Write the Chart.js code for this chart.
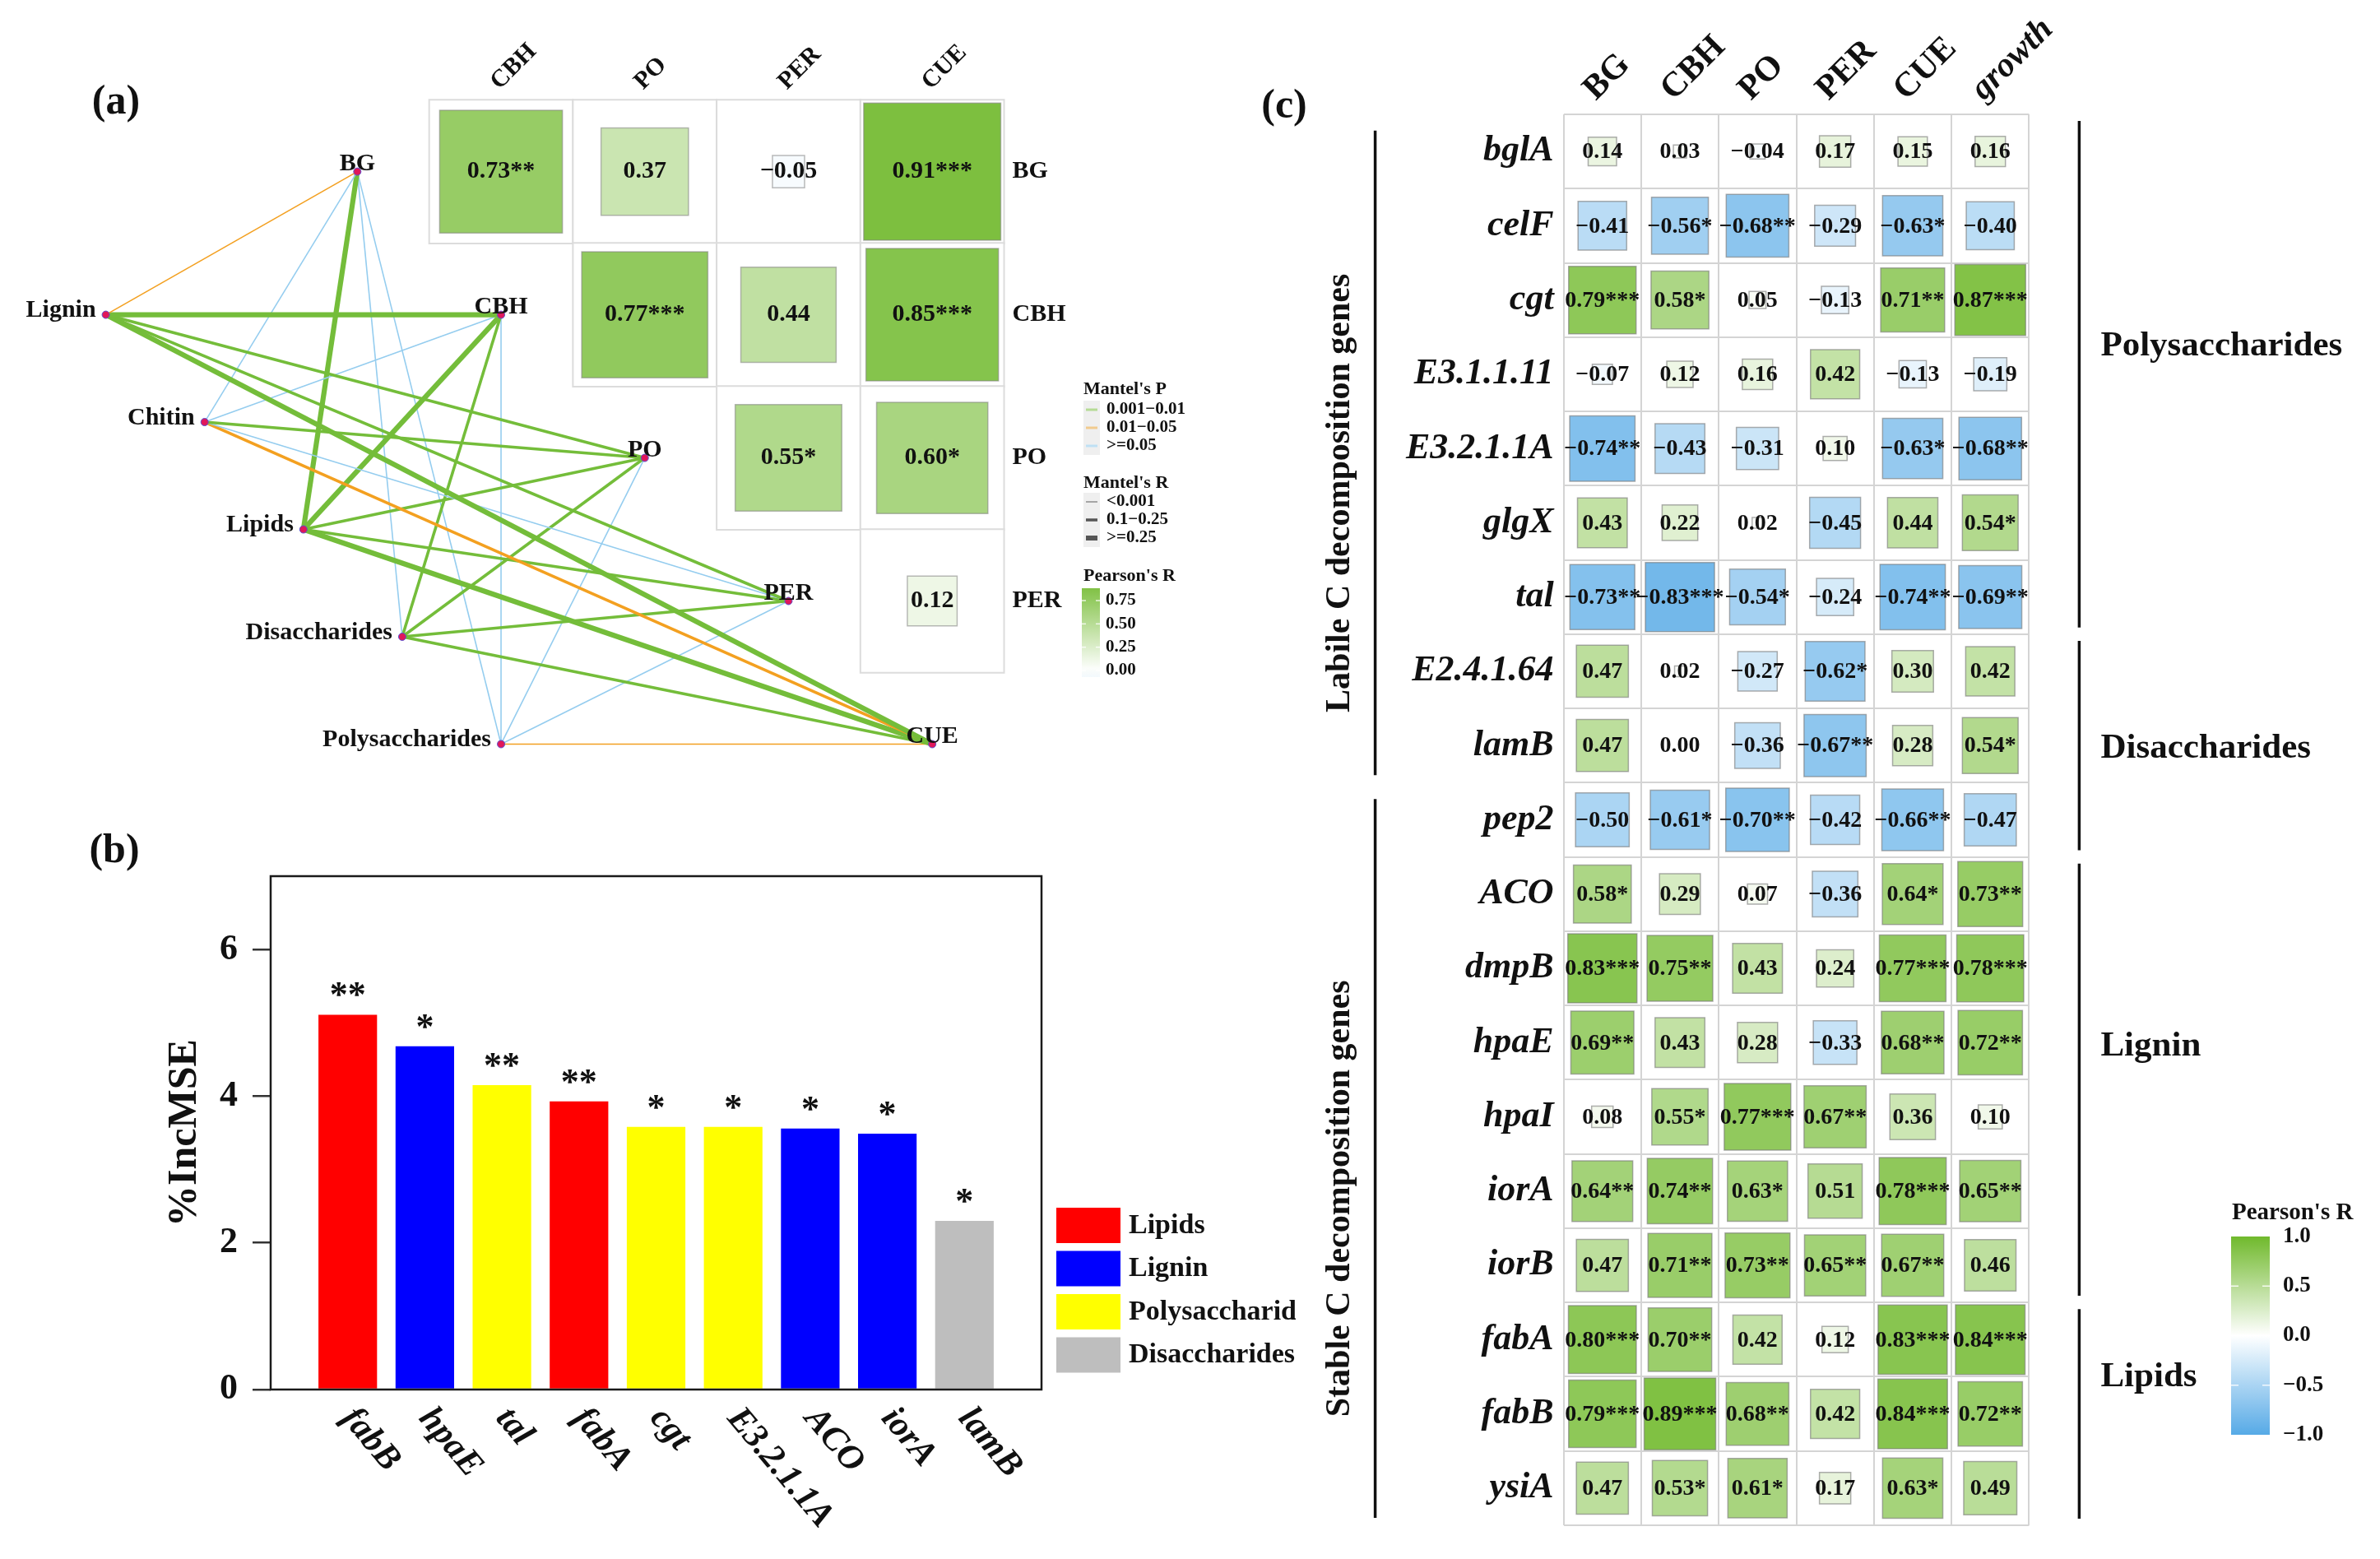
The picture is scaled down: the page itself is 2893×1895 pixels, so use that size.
<!DOCTYPE html>
<html lang="en">
<head>
<meta charset="utf-8">
<title>Mantel network, random forest and gene correlations</title>
<script src="https://cdn.jsdelivr.net/npm/chart.js@4.4.1/dist/chart.umd.min.js"></script>
<style>
  html, body { margin: 0; padding: 0; background: #fff; }
  body { position: relative; width: 2893px; height: 1895px; overflow: hidden; }
  canvas { position: absolute; }
  #panelA { left: 0; top: 0; }
  #panelB { left: 0; top: 950px; }
  #panelC { left: 1500px; top: 0; }
</style>
</head>
<body>
<canvas id="panelA" width="1500" height="950"></canvas>
<canvas id="panelB" width="1575" height="945"></canvas>
<canvas id="panelC" width="1393" height="1895"></canvas>
<script>
// ---------- panel (a) data ----------
const matRows = ['BG', 'CBH', 'PO', 'PER'];
const matCols = ['CBH', 'PO', 'PER', 'CUE'];
const matR = [
  [0.73, 0.37, -0.05, 0.91],
  [null, 0.77, 0.44, 0.85],
  [null, null, 0.55, 0.60],
  [null, null, null, 0.12]
];
const matStars = [
  ['**', '', '', '***'],
  ['', '***', '', '***'],
  ['', '', '*', '*'],
  ['', '', '', '']
];
const mantelGroups = ['Lignin', 'Chitin', 'Lipids', 'Disaccharides', 'Polysaccharides'];
const mantelTargets = ['BG', 'CBH', 'PO', 'PER', 'CUE'];
// 0: 0.001-0.01, 1: 0.01-0.05, 2: >=0.05
const mantelPClass = [
  [1, 0, 0, 0, 0],
  [2, 2, 0, 2, 1],
  [0, 0, 0, 0, 0],
  [2, 0, 0, 0, 0],
  [2, 2, 2, 2, 1]
];
// 0: <0.001, 1: 0.1-0.25, 2: >=0.25
const mantelRClass = [
  [0, 2, 1, 1, 2],
  [0, 0, 1, 0, 1],
  [2, 2, 1, 1, 2],
  [0, 1, 1, 1, 1],
  [0, 0, 0, 0, 0]
];
const mantelPLabels = ['0.001\u22120.01', '0.01\u22120.05', '>=0.05'];
const mantelRLabels = ['<0.001', '0.1\u22120.25', '>=0.25'];
const pearsonTicksA = [0.75, 0.50, 0.25, 0.00];

// ---------- panel (b) data ----------
const rfGenes = ['fabB', 'hpaE', 'tal', 'fabA', 'cgt', 'E3.2.1.1A', 'ACO', 'iorA', 'lamB'];
const rfIncMSE = [5.11, 4.68, 4.15, 3.93, 3.58, 3.58, 3.56, 3.49, 2.30];
const rfStars = ['**', '*', '**', '**', '*', '*', '*', '*', '*'];
const rfGroup = ['Lipids', 'Lignin', 'Polysaccharides', 'Lipids', 'Polysaccharides',
  'Polysaccharides', 'Lignin', 'Lignin', 'Disaccharides'];
const rfGroupNames = ['Lipids', 'Lignin', 'Polysaccharides', 'Disaccharides'];
const yTicksB = [0, 2, 4, 6];

// ---------- panel (c) data ----------
const geneRows = ['bglA', 'celF', 'cgt', 'E3.1.1.11', 'E3.2.1.1A', 'glgX', 'tal', 'E2.4.1.64', 'lamB',
  'pep2', 'ACO', 'dmpB', 'hpaE', 'hpaI', 'iorA', 'iorB', 'fabA', 'fabB', 'ysiA'];
const geneCols = ['BG', 'CBH', 'PO', 'PER', 'CUE', 'growth'];
const geneR = [
  [0.14, 0.03, -0.04, 0.17, 0.15, 0.16],
  [-0.41, -0.56, -0.68, -0.29, -0.63, -0.40],
  [0.79, 0.58, 0.05, -0.13, 0.71, 0.87],
  [-0.07, 0.12, 0.16, 0.42, -0.13, -0.19],
  [-0.74, -0.43, -0.31, 0.10, -0.63, -0.68],
  [0.43, 0.22, 0.02, -0.45, 0.44, 0.54],
  [-0.73, -0.83, -0.54, -0.24, -0.74, -0.69],
  [0.47, 0.02, -0.27, -0.62, 0.30, 0.42],
  [0.47, 0.00, -0.36, -0.67, 0.28, 0.54],
  [-0.50, -0.61, -0.70, -0.42, -0.66, -0.47],
  [0.58, 0.29, 0.07, -0.36, 0.64, 0.73],
  [0.83, 0.75, 0.43, 0.24, 0.77, 0.78],
  [0.69, 0.43, 0.28, -0.33, 0.68, 0.72],
  [0.08, 0.55, 0.77, 0.67, 0.36, 0.10],
  [0.64, 0.74, 0.63, 0.51, 0.78, 0.65],
  [0.47, 0.71, 0.73, 0.65, 0.67, 0.46],
  [0.80, 0.70, 0.42, 0.12, 0.83, 0.84],
  [0.79, 0.89, 0.68, 0.42, 0.84, 0.72],
  [0.47, 0.53, 0.61, 0.17, 0.63, 0.49]
];
const geneStars = [
  ['', '', '', '', '', ''],
  ['', '*', '**', '', '*', ''],
  ['***', '*', '', '', '**', '***'],
  ['', '', '', '', '', ''],
  ['**', '', '', '', '*', '**'],
  ['', '', '', '', '', '*'],
  ['**', '***', '*', '', '**', '**'],
  ['', '', '', '*', '', ''],
  ['', '', '', '**', '', '*'],
  ['', '*', '**', '', '**', ''],
  ['*', '', '', '', '*', '**'],
  ['***', '**', '', '', '***', '***'],
  ['**', '', '', '', '**', '**'],
  ['', '*', '***', '**', '', ''],
  ['**', '**', '*', '', '***', '**'],
  ['', '**', '**', '**', '**', ''],
  ['***', '**', '', '', '***', '***'],
  ['***', '***', '**', '', '***', '**'],
  ['', '*', '*', '', '*', '']
];
const classNames = ['Labile C decomposition genes', 'Stable C decomposition genes'];
const classFirstRow = [0, 9];
const classLastRow = [8, 18];
const substrateNames = ['Polysaccharides', 'Disaccharides', 'Lignin', 'Lipids'];
const substrateFirstRow = [0, 7, 10, 16];
const substrateLastRow = [6, 9, 15, 18];
const pearsonTicksC = [1.0, 0.5, 0.0, -0.5, -1.0];

// ---------- styling ----------
const SERIF = '"Liberation Serif", "Times New Roman", serif';
Chart.defaults.font.family = SERIF;
function fontStr(size, style) { return (style || 'normal') + ' bold ' + size + 'px ' + SERIF; }

function corrColor(r) {
  const a = Math.min(Math.abs(r), 1);
  const end = r >= 0 ? [112, 185, 44] : [86, 170, 230];
  const c = end.map(e => Math.round(255 + (e - 255) * a));
  return 'rgb(' + c[0] + ',' + c[1] + ',' + c[2] + ')';
}
function fmtR(r) { return (r < 0 ? '\u2212' : '') + Math.abs(r).toFixed(2); }

const pColors = ['#74bd3a', '#f3a020', '#95cdef'];
const pKeyColors = ['#b5db95', '#f1cb8e', '#bfe0f4'];
const rWidths = [1.6, 3.6, 6.2];
const groupColors = { Lipids: '#ff0000', Lignin: '#0000ff', Polysaccharides: '#ffff00', Disaccharides: '#bebebe' };

// linkET-like layout: substrate groups on a slanted column, enzymes along the diagonal
function layoutGroup(g) { return { x: -1.75 + 0.6875 * g, y: 2 + 0.75 * g }; }
function layoutTarget(k) { return { x: k, y: k + 1 }; }

function unitX(chart) { return Math.abs(chart.scales.x.getPixelForValue(1) - chart.scales.x.getPixelForValue(0)); }
function unitY(chart) { return Math.abs(chart.scales.y.getPixelForValue(1) - chart.scales.y.getPixelForValue(0)); }

function line(ctx, x1, y1, x2, y2) { ctx.beginPath(); ctx.moveTo(x1, y1); ctx.lineTo(x2, y2); ctx.stroke(); }

// ---------- panel (a) ----------
const cellPts = [];
const sqPts = [];
matRows.forEach((rn, i) => matCols.forEach((cn, j) => {
  if (matR[i][j] === null) return;
  cellPts.push({ x: j + 1, y: i + 1 });
  sqPts.push({ x: j + 1, y: i + 1, r: matR[i][j], s: matStars[i][j] });
}));
const nodePts = mantelGroups.map((g, i) => Object.assign(layoutGroup(i), { label: g, kind: 'g' }))
  .concat(mantelTargets.map((t, k) => Object.assign(layoutTarget(k), { label: t, kind: 't' })));

const edgeSets = [];
mantelGroups.forEach((g, gi) => {
  mantelTargets.forEach((t, ti) => {
    edgeSets.push({
      data: [layoutGroup(gi), layoutTarget(ti)],
      showLine: true,
      pointRadius: 0,
      borderColor: pColors[mantelPClass[gi][ti]],
      borderWidth: rWidths[mantelRClass[gi][ti]],
      order: 3
    });
  });
});

const panelAText = {
  id: 'panelAText',
  afterDatasetsDraw(chart) {
    const ctx = chart.ctx;
    const x = chart.scales.x, y = chart.scales.y;
    ctx.save();
    ctx.fillStyle = '#111';
    // values in the matrix
    ctx.font = fontStr(30);
    ctx.textAlign = 'center';
    ctx.textBaseline = 'middle';
    chart.getDatasetMeta(1).data.forEach((el, k) => {
      const d = sqPts[k];
      ctx.fillText(fmtR(d.r) + d.s, el.x, el.y);
    });
    // node labels
    chart.getDatasetMeta(0).data.forEach((el, k) => {
      const d = nodePts[k];
      if (d.kind === 'g') {
        ctx.textAlign = 'right';
        ctx.fillText(d.label, el.x - 12, el.y - 5);
      } else {
        ctx.textAlign = 'center';
        ctx.fillText(d.label, el.x, el.y - 9);
      }
    });
    // matrix column labels
    const gridTop = y.getPixelForValue(0.5);
    matCols.forEach((c, j) => {
      ctx.save();
      ctx.translate(x.getPixelForValue(j + 1) - 2, gridTop - 12);
      ctx.rotate(-Math.PI / 4);
      ctx.textAlign = 'left';
      ctx.textBaseline = 'alphabetic';
      ctx.fillText(c, 0, 0);
      ctx.restore();
    });
    // matrix row labels
    const gridRight = x.getPixelForValue(matCols.length + 0.5);
    ctx.textAlign = 'left';
    ctx.textBaseline = 'middle';
    matRows.forEach((r, i) => ctx.fillText(r, gridRight + 10, y.getPixelForValue(i + 1)));

    // legends
    const lx = 1317;
    ctx.font = fontStr(22);
    ctx.fillText("Mantel's P", lx, 473);
    mantelPLabels.forEach((lab, k) => {
      const yy = 498 + k * 22;
      ctx.fillStyle = '#efefef';
      ctx.fillRect(lx, yy - 11, 20, 22);
      ctx.strokeStyle = pKeyColors[k];
      ctx.lineWidth = 3;
      line(ctx, lx + 3, yy, lx + 17, yy);
      ctx.fillStyle = '#111';
      ctx.font = fontStr(21);
      ctx.fillText(lab, lx + 28, yy);
    });
    ctx.font = fontStr(22);
    ctx.fillText("Mantel's R", lx, 587);
    mantelRLabels.forEach((lab, k) => {
      const yy = 610 + k * 22;
      ctx.fillStyle = '#efefef';
      ctx.fillRect(lx, yy - 11, 20, 22);
      ctx.strokeStyle = k === 0 ? '#8c8c8c' : '#555';
      ctx.lineWidth = [1.5, 3.5, 6][k];
      line(ctx, lx + 3, yy, lx + 17, yy);
      ctx.fillStyle = '#111';
      ctx.font = fontStr(21);
      ctx.fillText(lab, lx + 28, yy);
    });
    ctx.font = fontStr(22);
    ctx.fillText("Pearson's R", lx, 700);
    const cbTop = 715, cbBot = 823, zeroY = 815, perUnit = 113.3;
    const grad = ctx.createLinearGradient(0, cbTop, 0, cbBot);
    for (let t = 0; t <= 1.0001; t += 0.1) {
      const v = (zeroY - (cbTop + t * (cbBot - cbTop))) / perUnit;
      grad.addColorStop(Math.min(t, 1), corrColor(v));
    }
    ctx.fillStyle = grad;
    ctx.fillRect(lx - 2, cbTop, 22, cbBot - cbTop);
    ctx.fillStyle = '#111';
    ctx.font = fontStr(21);
    ctx.strokeStyle = 'rgba(255,255,255,0.8)';
    ctx.lineWidth = 1.5;
    pearsonTicksA.forEach(v => {
      const yy = zeroY - v * perUnit;
      line(ctx, lx - 2, yy, lx + 3, yy);
      line(ctx, lx + 15, yy, lx + 20, yy);
      ctx.fillText(v.toFixed(2), lx + 27, yy);
    });

    ctx.font = fontStr(50);
    ctx.textAlign = 'center';
    ctx.fillText('(a)', 141, 125);
    ctx.restore();
  }
};

new Chart(document.getElementById('panelA'), {
  type: 'scatter',
  data: {
    datasets: [
      {
        data: nodePts,
        pointRadius: 4.5,
        pointBackgroundColor: '#e0175a',
        pointBorderColor: '#5a4fd0',
        pointBorderWidth: 1,
        order: 0
      },
      {
        data: sqPts,
        pointStyle: 'rect',
        pointRadius: ctx => ctx.raw ? Math.sqrt(Math.abs(ctx.raw.r)) * unitX(ctx.chart) / Math.SQRT2 : 0,
        pointBackgroundColor: ctx => ctx.raw ? corrColor(ctx.raw.r) : '#fff',
        pointBorderColor: 'rgba(130,130,130,0.55)',
        pointBorderWidth: 1.5,
        order: 1
      },
      {
        data: cellPts,
        pointStyle: 'rect',
        pointRadius: ctx => unitX(ctx.chart) / Math.SQRT2,
        pointBackgroundColor: '#ffffff',
        pointBorderColor: '#dcdcdc',
        pointBorderWidth: 2,
        order: 2
      }
    ].concat(edgeSets)
  },
  options: {
    responsive: false,
    animation: false,
    events: [],
    layout: { padding: 0 },
    plugins: { legend: { display: false }, tooltip: { enabled: false } },
    scales: {
      x: { type: 'linear', min: -2.4545, max: 6.0682, display: false },
      y: { type: 'linear', min: -0.1676, max: 5.2301, reverse: true, display: false }
    }
  },
  plugins: [panelAText]
});

// ---------- panel (b) ----------
const panelBText = {
  id: 'panelBText',
  afterDatasetsDraw(chart) {
    const ctx = chart.ctx;
    const a = chart.chartArea;
    ctx.save();
    ctx.strokeStyle = '#1a1a1a';
    ctx.lineWidth = 2.5;
    ctx.strokeRect(a.left, a.top, a.right - a.left, a.bottom - a.top);
    ctx.fillStyle = '#111';
    chart.getDatasetMeta(0).data.forEach((bar, i) => {
      ctx.font = fontStr(44);
      ctx.textAlign = 'center';
      ctx.textBaseline = 'alphabetic';
      ctx.fillText(rfStars[i], bar.x, bar.y - 10);
      ctx.save();
      ctx.translate(bar.x, a.bottom + 28);
      ctx.rotate(50 * Math.PI / 180);
      ctx.font = fontStr(43, 'italic');
      ctx.textAlign = 'left';
      ctx.textBaseline = 'middle';
      ctx.fillText(rfGenes[i], 0, 0);
      ctx.restore();
    });
    rfGroupNames.forEach((g, k) => {
      const top = 518 + k * 52.5;
      ctx.fillStyle = groupColors[g];
      ctx.fillRect(a.right + 18, top, 78, 43);
      ctx.fillStyle = '#111';
      ctx.font = fontStr(34);
      ctx.textAlign = 'left';
      ctx.textBaseline = 'middle';
      ctx.fillText(g, a.right + 106, top + 22);
    });
    ctx.font = fontStr(50);
    ctx.textAlign = 'center';
    ctx.textBaseline = 'middle';
    ctx.fillText('(b)', 139, 85);
    ctx.restore();
  }
};

new Chart(document.getElementById('panelB'), {
  type: 'bar',
  data: {
    datasets: [{
      data: rfIncMSE.map((v, i) => ({ x: i + 1, y: v })),
      backgroundColor: rfGroup.map(g => groupColors[g]),
      barPercentage: 0.76,
      categoryPercentage: 1
    }]
  },
  options: {
    responsive: false,
    animation: false,
    events: [],
    layout: { padding: { left: 195, right: 309, top: 115, bottom: 206 } },
    plugins: { legend: { display: false }, tooltip: { enabled: false } },
    scales: {
      x: { type: 'linear', min: 0, max: rfGenes.length + 1, offset: false, display: false },
      y: {
        min: 0,
        max: 7,
        afterBuildTicks: s => { s.ticks = yTicksB.map(v => ({ value: v })); },
        afterFit: s => { s.width = 134; },
        ticks: { padding: 18, color: '#111', font: { size: 44, weight: 'bold' } },
        grid: { drawOnChartArea: false, tickLength: 22, color: '#333', lineWidth: 2.5 },
        border: { display: false },
        title: { display: true, text: '%IncMSE', color: '#111', padding: 0, font: { size: 50, weight: 'bold' } }
      }
    }
  },
  plugins: [panelBText]
});

// ---------- panel (c) ----------
const heatPts = [];
geneRows.forEach((g, i) => geneCols.forEach((c, j) => {
  heatPts.push({ x: j, y: i, r: geneR[i][j], s: geneStars[i][j] });
}));

const panelCText = {
  id: 'panelCText',
  afterDatasetsDraw(chart) {
    const ctx = chart.ctx;
    const x = chart.scales.x, y = chart.scales.y;
    const gridLeft = x.getPixelForValue(-0.5), gridRight = x.getPixelForValue(geneCols.length - 0.5);
    const gridTop = y.getPixelForValue(-0.5);
    ctx.save();
    ctx.fillStyle = '#111';
    ctx.strokeStyle = '#111';
    // cell values
    ctx.font = fontStr(28);
    ctx.textAlign = 'center';
    ctx.textBaseline = 'middle';
    chart.getDatasetMeta(0).data.forEach((el, k) => {
      const d = heatPts[k];
      ctx.fillText(fmtR(d.r) + d.s, el.x, el.y + 1);
    });
    // column headers
    geneCols.forEach((c, j) => {
      ctx.save();
      ctx.translate(x.getPixelForValue(j) - 8, gridTop - 16);
      ctx.rotate(-Math.PI / 4);
      ctx.font = fontStr(42, c === 'growth' ? 'italic' : 'normal');
      ctx.textAlign = 'left';
      ctx.textBaseline = 'alphabetic';
      ctx.fillText(c, 0, 0);
      ctx.restore();
    });
    // row labels
    ctx.font = fontStr(44, 'italic');
    ctx.textAlign = 'right';
    geneRows.forEach((g, i) => ctx.fillText(g, gridLeft - 12, y.getPixelForValue(i)));
    // decomposition classes (left)
    ctx.lineWidth = 3.5;
    classNames.forEach((n, k) => {
      const lx = gridLeft - 229;
      line(ctx, lx, y.getPixelForValue(classFirstRow[k] - 0.28), lx, y.getPixelForValue(classLastRow[k] + 0.4));
      ctx.save();
      ctx.translate(gridLeft - 271, y.getPixelForValue((classFirstRow[k] + classLastRow[k]) / 2 + 0.6));
      ctx.rotate(-Math.PI / 2);
      ctx.font = fontStr(42);
      ctx.textAlign = 'center';
      ctx.textBaseline = 'middle';
      ctx.fillText(n, 0, 0);
      ctx.restore();
    });
    // substrate groups (right)
    const labelShift = [-0.38, 0.04, -0.45, -0.5];
    substrateNames.forEach((n, k) => {
      const lx = gridRight + 61;
      line(ctx, lx, y.getPixelForValue(substrateFirstRow[k] - 0.41), lx, y.getPixelForValue(substrateLastRow[k] + 0.41));
      ctx.font = fontStr(43);
      ctx.textAlign = 'left';
      ctx.textBaseline = 'middle';
      ctx.fillText(n, gridRight + 87, y.getPixelForValue((substrateFirstRow[k] + substrateLastRow[k]) / 2 + labelShift[k]));
    });
    // colour bar
    const bx = 1212, bw = 47, top = 1503, bot = 1744;
    const vy = v => top + (1 - v) / 2 * (bot - top);
    const grad = ctx.createLinearGradient(0, top, 0, bot);
    for (let t = 0; t <= 1.0001; t += 0.05) grad.addColorStop(Math.min(t, 1), corrColor(1 - 2 * t));
    ctx.fillStyle = grad;
    ctx.fillRect(bx, top, bw, bot - top);
    ctx.strokeStyle = 'rgba(255,255,255,0.85)';
    ctx.lineWidth = 1.5;
    ctx.fillStyle = '#111';
    ctx.font = fontStr(27);
    ctx.textAlign = 'left';
    pearsonTicksC.forEach(v => {
      const yy = vy(v);
      if (Math.abs(v) === 0.5) {
        line(ctx, bx, yy, bx + 9, yy);
        line(ctx, bx + bw - 9, yy, bx + bw, yy);
      }
      ctx.fillText((v < 0 ? '\u2212' : '') + Math.abs(v).toFixed(1), bx + 63, yy);
    });
    ctx.font = fontStr(29);
    ctx.fillText("Pearson's R", bx + 1, 1475);
    ctx.font = fontStr(50);
    ctx.textAlign = 'center';
    ctx.fillText('(c)', 61, 130);
    ctx.restore();
  }
};

const cellTicks = n => Array.from({ length: n + 1 }, (_, k) => ({ value: k - 0.5 }));

new Chart(document.getElementById('panelC'), {
  type: 'scatter',
  data: {
    datasets: [{
      data: heatPts,
      pointStyle: 'rect',
      pointRadius: ctx => ctx.raw ? Math.sqrt(Math.abs(ctx.raw.r)) * (unitX(ctx.chart) + unitY(ctx.chart)) / 2 / Math.SQRT2 : 0,
      pointBackgroundColor: ctx => ctx.raw ? corrColor(ctx.raw.r) : '#fff',
      pointBorderColor: 'rgba(120,120,120,0.6)',
      pointBorderWidth: 1.5
    }]
  },
  options: {
    responsive: false,
    animation: false,
    events: [],
    layout: { padding: { left: 400.6, right: 426.6, top: 139, bottom: 41 } },
    plugins: { legend: { display: false }, tooltip: { enabled: false } },
    scales: {
      x: {
        type: 'linear', min: -0.5, max: geneCols.length - 0.5,
        afterBuildTicks: s => { s.ticks = cellTicks(geneCols.length); },
        ticks: { display: false },
        grid: { color: '#d4d4d4', lineWidth: 2, drawTicks: false },
        border: { display: false }
      },
      y: {
        type: 'linear', min: -0.5, max: geneRows.length - 0.5, reverse: true,
        afterBuildTicks: s => { s.ticks = cellTicks(geneRows.length); },
        ticks: { display: false },
        grid: { color: '#d4d4d4', lineWidth: 2, drawTicks: false },
        border: { display: false }
      }
    }
  },
  plugins: [panelCText]
});
</script>
</body>
</html>
